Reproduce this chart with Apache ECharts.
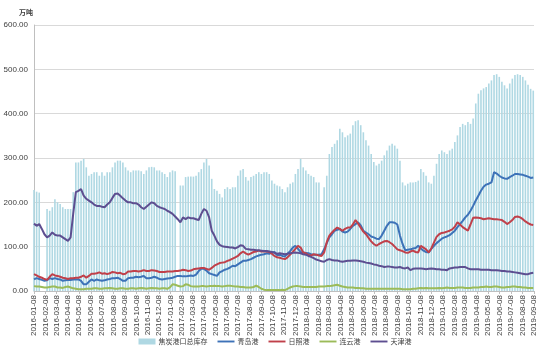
<!DOCTYPE html>
<html><head><meta charset="utf-8">
<script src="https://cdn.jsdelivr.net/npm/echarts@6/dist/echarts.min.js"></script>
<style>html,body{margin:0;padding:0;background:#fff}#c{width:550px;height:355px}</style>
</head><body><div id="c"></div>
<script>
const unitName = '万吨';
const seriesNames = ['焦炭港口总库存', '青岛港', '日照港', '连云港', '天津港'];
const firstWeek = [2016, 1, 8]; // weekly observations starting 2016-01-08
const yTicks = [0, 100, 200, 300, 400, 500, 600];
const tickLabels = [
 '2016-01-08','2016-02-08','2016-03-08','2016-04-08','2016-05-08','2016-06-08','2016-07-08','2016-08-08','2016-09-08','2016-10-08','2016-11-08','2016-12-08',
 '2017-01-08','2017-02-08','2017-03-08','2017-04-08','2017-05-08','2017-06-08','2017-07-08','2017-08-08','2017-09-08','2017-10-08','2017-11-08','2017-12-08',
 '2018-01-08','2018-02-08','2018-03-08','2018-04-08','2018-05-08','2018-06-08','2018-07-08','2018-08-08','2018-09-08','2018-10-08','2018-11-08','2018-12-08',
 '2019-01-08','2019-02-08','2019-03-08','2019-04-08','2019-05-08','2019-06-08','2019-07-08','2019-08-08','2019-09-08'
];
const totalStock = [
 228,224,222,null,null,185,181,189,207,200,196,189,185,185,185,223,290,290,294,298,279,260,264,268,268,260,268,260,268,268,
 279,290,294,294,290,279,272,268,272,272,272,270,264,272,279,280,279,272,272,268,264,257,268,272,270,null,238,238,257,258,
 258,258,260,268,275,290,298,283,253,230,226,219,211,230,234,230,234,234,260,272,275,257,249,257,260,264,268,264,268,268,
 264,249,242,238,236,230,223,234,242,245,264,275,298,279,272,264,260,257,245,245,null,234,260,309,325,332,340,366,358,347,
 351,355,374,383,385,374,358,340,328,309,291,283,287,294,306,317,328,332,328,321,294,245,238,242,245,245,246,249,275,268,
 260,245,242,260,287,309,317,313,309,317,321,336,351,370,377,374,381,377,389,423,445,453,457,460,468,475,487,489,483,472,
 464,457,468,479,487,489,487,483,475,465,456,452
];
const qingdao = [
 26,29,27,25,23,24,29,27,29,27,26,23,24,25,25,26,26,26,23,15,15,21,26,23,26,24,23,24,26,27,
 29,29,30,27,23,23,29,30,30,32,31,32,34,29,29,30,32,30,27,26,27,28,29,30,32,34,34,33,33,34,
 35,34,37,45,50,50,46,40,38,36,34,42,45,48,50,53,57,56,60,64,68,68,70,72,75,78,80,82,83,85,
 84,87,88,81,82,79,78,84,90,98,102,95,88,87,86,85,83,82,82,82,83,94,108,121,128,136,138,140,134,132,
 134,140,147,151,155,148,136,132,128,123,121,118,117,125,136,147,155,155,154,150,125,106,92,93,94,96,97,102,96,91,
 88,87,95,102,108,113,118,121,123,126,131,136,144,151,158,166,172,181,192,204,215,226,235,240,242,245,268,265,260,256,
 254,253,257,260,264,264,263,262,260,258,255,256
];
const rizhao = [
 38,35,32,30,27,25,32,38,35,34,32,30,29,27,29,29,30,30,32,35,30,34,39,39,40,42,39,40,38,40,
 43,42,40,41,38,39,44,44,45,45,44,45,47,45,45,47,46,45,43,43,43,44,44,44,45,45,46,48,47,45,
 46,49,50,51,52,52,50,48,52,57,60,63,64,65,68,70,73,76,79,85,89,85,82,85,88,89,91,89,89,89,
 88,84,79,76,75,73,72,76,82,88,95,102,98,87,85,81,80,83,82,80,79,87,110,125,132,138,143,140,136,140,
 143,143,150,160,152,143,134,128,120,112,106,102,106,109,112,113,110,106,100,94,92,90,87,86,89,91,88,87,102,98,
 94,87,96,109,122,128,131,132,134,136,139,145,155,150,144,140,136,150,165,166,165,164,162,163,164,163,162,162,161,160,
 156,151,155,160,167,168,166,162,157,153,150,149
];
const lianyungang = [
 11,10,10,9,8,8,9,10,10,8,8,7,9,10,8,6,5,4,4,4,5,5,5,6,6,5,5,6,6,7,
 6,5,5,6,6,5,5,6,6,5,6,7,6,5,6,7,6,6,5,6,6,5,8,15,14,12,10,11,15,14,
 11,10,10,10,11,11,10,11,11,12,11,11,10,11,12,12,11,10,10,9,9,8,8,8,9,12,9,5,3,2,
 2,2,2,2,2,3,2,5,8,10,11,11,10,9,9,9,9,9,9,10,10,10,11,11,12,13,14,12,10,9,
 8,8,8,7,7,6,6,5,5,5,5,5,5,5,5,5,5,5,5,5,5,4,4,4,4,5,5,6,7,6,
 7,6,6,6,6,7,6,7,8,7,7,7,8,8,8,7,7,7,8,8,8,9,9,10,9,9,10,10,9,8,
 8,9,9,10,10,9,9,8,8,7,7,7
];
const tianjin = [
 152,147,151,140,128,121,125,132,127,125,125,121,117,113,121,174,223,226,230,215,208,204,200,195,192,192,190,189,195,200,
 210,219,220,215,209,204,200,200,198,198,195,189,185,190,195,200,198,192,189,187,185,181,178,174,168,162,155,166,162,166,
 164,164,162,160,174,185,181,166,136,125,112,104,101,100,99,98,98,96,99,103,102,95,94,93,93,92,92,91,90,90,
 89,88,86,84,85,84,83,84,85,86,87,86,85,83,82,79,77,74,71,69,67,66,70,72,70,69,69,67,66,67,
 68,68,69,69,68,67,66,64,63,62,60,59,57,56,54,55,55,54,53,53,54,52,51,53,47,50,51,51,51,50,
 49,50,51,50,49,49,48,48,47,51,52,53,53,54,54,54,51,49,49,49,49,48,48,48,48,47,47,47,46,45,
 45,44,44,43,42,41,40,39,38,38,40,41
];

const weekTimes = totalStock.map((_, i) => new Date(firstWeek[0], firstWeek[1] - 1, firstWeek[2] + 7 * i).getTime());
const parseDay = s => { const p = s.split('-').map(Number); return new Date(p[0], p[1] - 1, p[2]).getTime(); };
const tickTimes = tickLabels.map(parseDay);
const pair = arr => arr.map((v, i) => [weekTimes[i], v]);
const labelFor = v => {
  let best = 0, bd = Infinity;
  tickTimes.forEach((t, k) => { const d = Math.abs(t - v); if (d < bd) { bd = d; best = k; } });
  return bd < 3600e3 * 2 ? tickLabels[best] : '';
};

const font = 'Liberation Sans, Arial, Noto Sans CJK SC, sans-serif';
const lineColors = ['#3d72b8', '#c0404a', '#9bbb59', '#5d4e90'];
const lineData = [qingdao, rizhao, lianyungang, tianjin];
const lineIcon = 'path://M0,0 M18,6 M0,2 L18,2 L18,4 L0,4 Z';

const chart = echarts.init(document.getElementById('c'), null, {renderer: 'canvas'});
chart.setOption({
  animation: false,
  backgroundColor: '#fff',
  textStyle: {fontFamily: font},
  grid: {left: 34, right: 16, top: 25, bottom: 64, containLabel: false},
  legend: {
    bottom: 5, left: 'center', itemGap: 10, itemWidth: 17, itemHeight: 6,
    textStyle: {fontSize: 7, color: '#404040', fontFamily: 'Noto Sans CJK SC', padding: [0, 0, 0, -2]},
    data: seriesNames.map((n, i) => ({name: n, icon: i === 0 ? 'rect' : lineIcon}))
  },
  xAxis: {
    type: 'value',
    min: tickTimes[0], max: tickTimes[tickTimes.length - 1],
    axisLine: {show: true, onZero: false, lineStyle: {color: '#bfbfbf'}},
    axisTick: {show: true, customValues: tickTimes, length: 3, lineStyle: {color: '#bfbfbf'}},
    axisLabel: {
      customValues: tickTimes, rotate: 90, fontSize: 8, color: '#404040', margin: 4,
      hideOverlap: false, showMinLabel: true, showMaxLabel: true,
      formatter: v => labelFor(v)
    },
    splitLine: {show: false}
  },
  yAxis: {
    type: 'value', min: yTicks[0], max: yTicks[yTicks.length - 1], interval: 100,
    name: unitName, nameLocation: 'end', nameGap: 9,
    nameTextStyle: {align: 'right', fontSize: 7, fontWeight: 'bold', color: '#404040', fontFamily: 'Noto Sans CJK SC', padding: [0, 1, 0, 0]},
    axisLine: {show: true, lineStyle: {color: '#bfbfbf'}},
    axisTick: {show: false},
    axisLabel: {fontSize: 8, color: '#404040', margin: 6, formatter: v => v.toFixed(2)},
    splitLine: {lineStyle: {color: '#d9d9d9'}}
  },
  series: [
    {name: seriesNames[0], type: 'bar', data: pair(totalStock), barWidth: 1.6,
     itemStyle: {color: '#afd8e3'}, z: 1}
  ].concat(lineData.map((arr, k) => ({
    name: seriesNames[k + 1], type: 'line', data: pair(arr), symbol: 'none', connectNulls: true,
    lineStyle: {color: lineColors[k], width: 2}, itemStyle: {color: lineColors[k]}, z: 3
  })))
});
</script></body></html>
